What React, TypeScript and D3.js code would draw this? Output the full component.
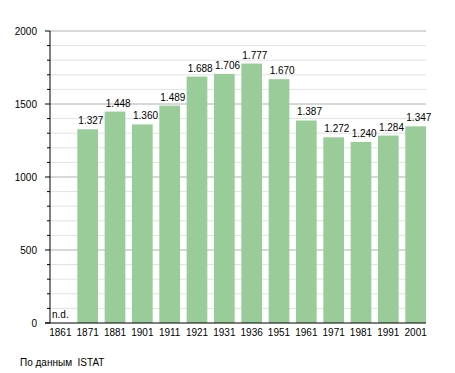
import React from 'react';
import * as d3 from 'd3';

const years = ['1861', '1871', '1881', '1901', '1911', '1921', '1931', '1936', '1951', '1961', '1971', '1981', '1991', '2001'];
const population: (number | null)[] = [null, 1327, 1448, 1360, 1489, 1688, 1706, 1777, 1670, 1387, 1272, 1240, 1284, 1347];
const majorTicks = [0, 500, 1000, 1500, 2000];
const minorTicks = d3.range(0, 2001, 100);

const W = 455;
const H = 373;
const left = 50;
const right = 426;
const top = 31;
const bottom = 323;

const fmt = (v: number) => d3.format(',')(v).replace(/,/g, '.');

const App: React.FC = () => {
  const x = d3.scaleBand<string>()
    .domain(years)
    .range([left, right])
    .paddingInner(0.243)
    .paddingOuter(0);

  const y = d3.scaleLinear().domain([0, 2000]).range([bottom, top]);

  const font = 'Liberation Sans, Arial, sans-serif';

  return (
    <svg width={W} height={H} style={{ position: 'absolute', left: 0, top: 0 }} fontFamily={font}>
      {/* minor grid */}
      {minorTicks.filter(t => t % 500 !== 0).map(t => (
        <g key={'m' + t}>
          <line x1={left} x2={right} y1={y(t)} y2={y(t)} stroke="#e2e2e2" strokeWidth={1} />
          <line x1={47} x2={left} y1={y(t)} y2={y(t)} stroke="#000" strokeWidth={1} />
        </g>
      ))}
      {/* major grid */}
      {majorTicks.map(t => (
        <g key={'M' + t}>
          {t > 0 && <line x1={left} x2={right} y1={y(t)} y2={y(t)} stroke="#b0b0b0" strokeWidth={1} />}
          <line x1={45} x2={left} y1={y(t)} y2={y(t)} stroke="#000" strokeWidth={1} />
          <text x={37} y={y(t) + 4} fontSize={10} textAnchor="end" fill="#000">{t}</text>
        </g>
      ))}

      {/* bars */}
      {years.map((yr, i) => {
        const v = population[i];
        const bx = x(yr) ?? 0;
        if (v == null) {
          return (
            <text key={yr} x={bx + 2} y={bottom - 5} fontSize={10} fill="#000">n.d.</text>
          );
        }
        return (
          <g key={yr}>
            <rect x={bx} y={y(v)} width={x.bandwidth()} height={bottom - y(v)} fill="#99cc99" />
            <text x={bx + 1} y={y(v) - 5} fontSize={10} fill="#000">{fmt(v)}</text>
          </g>
        );
      })}

      {/* axes */}
      <line x1={left} x2={left} y1={top} y2={bottom} stroke="#000" strokeWidth={1} />
      <line x1={45} x2={right} y1={bottom} y2={bottom} stroke="#000" strokeWidth={1} />

      {years.map(yr => (
        <text key={'l' + yr} x={(x(yr) ?? 0) + x.bandwidth() / 2} y={bottom + 13} fontSize={10} textAnchor="middle" fill="#000">{yr}</text>
      ))}

      <text x={20} y={366} fontSize={10} fill="#000" style={{ whiteSpace: 'pre' }}>По данным  ISTAT</text>
    </svg>
  );
};

export default App;
